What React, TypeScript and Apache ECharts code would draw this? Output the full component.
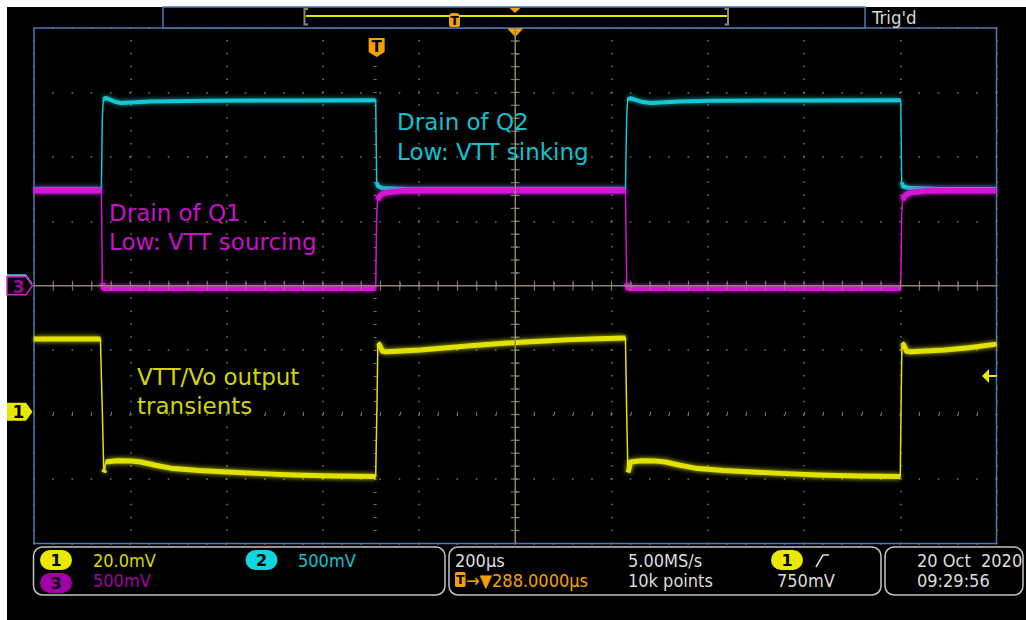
import React, { useEffect, useRef } from 'react';
import * as echarts from 'echarts';

// ---- Acquisition settings ----
const TIME_PER_DIV_US = 200;
const H_POSITION_US = 288; // trigger -> centre
const CH1_MV_PER_DIV = 20;
const CH1_POSITION_DIV = -1.957;
const CH2_V_PER_DIV = 0.5;
const CH2_POSITION_DIV = 0;
const CH3_V_PER_DIV = 0.5;
const CH3_POSITION_DIV = 0;
const TRIG_LEVEL_CH1_MV = 11.1;

// ---- Channel 1 (yellow): VTT/Vo output, mV relative to its marker ----
const CH1_T = [-712, -574, -570, -567, -565, -563, -540, -510, -490, -460, -428, -370, -310, -240, -172, -90, -2, 1, 2.5, 5, 12, 19, 50, 91, 140, 195, 250, 299, 350, 403, 460, 517, 519.5, 522, 524, 527, 550, 580, 600, 630, 662, 720, 780, 850, 918, 1000, 1088, 1090, 1091.5, 1094, 1101, 1108, 1140, 1180, 1230, 1288];
const CH1_MV = [22.6, 22.6, 0, -18.8, -18.0, -15.6, -15.2, -15.3, -15.6, -16.6, -17.5, -18.2, -18.7, -19.2, -19.6, -19.9, -20.1, 5, 21.3, 21.0, 18.8, 18.6, 18.9, 19.2, 19.8, 20.5, 21.1, 21.6, 22.0, 22.4, 22.7, 22.9, 0, -18.8, -18.0, -15.6, -15.2, -15.3, -15.6, -16.6, -17.5, -18.2, -18.7, -19.2, -19.6, -19.9, -20.1, 5, 21.3, 21.0, 18.8, 18.6, 18.9, 19.2, 19.9, 21.0];

// ---- Channel 2 (cyan): Drain of Q2, V ----
const CH2_T = [-712, -572, -570, -568, -563, -545, -532, -510, -470, -350, -150, -2, 0, 3, 12, 60, 517, 519.5, 521.5, 527, 550, 569, 590, 630, 700, 900, 1089, 1091, 1094, 1105, 1160, 1288];
const CH2_V = [0.748, 0.748, 1.30, 1.445, 1.457, 1.430, 1.418, 1.422, 1.430, 1.436, 1.438, 1.440, 0.80, 0.772, 0.758, 0.75, 0.748, 1.30, 1.445, 1.455, 1.428, 1.418, 1.422, 1.430, 1.436, 1.438, 1.440, 0.80, 0.77, 0.76, 0.752, 0.75];

// ---- Channel 3 (magenta): Drain of Q1, V ----
const CH3_T = [-712, -572, -570, -567, -2, 0, 2, 6, 12, 25, 50, 100, 517, 519.5, 522.5, 1089, 1091, 1093, 1097, 1103, 1116, 1141, 1191, 1288];
const CH3_V = [0.736, 0.736, 0.02, -0.02, -0.02, 0.55, 0.665, 0.695, 0.712, 0.726, 0.734, 0.736, 0.736, 0.02, -0.02, -0.02, 0.55, 0.665, 0.695, 0.712, 0.726, 0.734, 0.736, 0.736];

// ---- Labels ----
const CH_SCALE_LABELS = ['20.0mV', '500mV', '500mV'];
const TIMEBASE_LABEL = '200µs';
const TRIG_POS_LABEL = '→▼288.0000µs';
const SAMPLE_LABELS = ['5.00MS/s', '10k points'];
const TRIG_LEVEL_LABEL = '750mV';
const DATE_LABELS = ['20 Oct  2020', '09:29:56'];

const GL = 34, GT = 28, GW = 962.5, GH = 515.4;
const YELLOW = '#e2e200';
const CYAN = '#12c8d4';
const MAGENTA = '#d412d4';
const ORANGE = '#f5a000';
const BLUE = '#4a7ab4';
const TAN = '#8c8670';
const COND = '"DejaVu Sans Condensed", "DejaVu Sans", sans-serif';
const SANS = '"DejaVu Sans", Verdana, sans-serif';

const zip = (t: number[], v: number[]) => t.map((x, i) => [x, v[i]]);
// same samples, but the fast edges are left out so that only the settled parts get the thick, glowing band
function plateaus(t: number[], v: number[], perDiv: number) {
  const out: any[] = [];
  for (let i = 0; i < t.length; i++) {
    out.push([t[i], v[i]]);
    if (i < t.length - 1) {
      const slope = Math.abs(v[i + 1] - v[i]) / perDiv / (t[i + 1] - t[i]);
      if (slope > 0.06) out.push([(t[i] + t[i + 1]) / 2, '-']);
    }
  }
  return out;
}
const range = (pos: number, perDiv: number) => ({ min: (-4 - pos) * perDiv, max: (4 - pos) * perDiv });
const yPix = (val: number, r: { min: number; max: number }) => GT + GH * (r.max - val) / (r.max - r.min);

function txt(x: number, y: number, text: string, fill: string, font: string, align = 'left', z = 20) {
  return {
    type: 'text', x, y, z, silent: true,
    style: { text, fill, font, align, verticalAlign: 'middle', textAlign: align, textVerticalAlign: 'middle' },
  };
}

function buildOption() {
  const tMin = H_POSITION_US - 5 * TIME_PER_DIV_US;
  const tMax = H_POSITION_US + 5 * TIME_PER_DIV_US;
  const r1 = range(CH1_POSITION_DIV, CH1_MV_PER_DIV);
  const r2 = range(CH2_POSITION_DIV, CH2_V_PER_DIV);
  const r3 = range(CH3_POSITION_DIV, CH3_V_PER_DIV);
  const cx = GL + GW / 2, cy = GT + GH / 2;
  const dx = GW / 50, dy = GH / 40;

  const tickStyle = { color: '#727262', width: 1 };
  const divAxisBase = {
    type: 'value', interval: 1,
    axisLabel: { show: false },
    axisLine: { show: false },
    axisTick: { show: true, inside: true, length: 3, lineStyle: tickStyle },
    minorTick: { show: true, splitNumber: 5, length: 3, lineStyle: tickStyle },
    splitLine: { show: false },
  };

  const G: any[] = [];
  G.push({ type: 'rect', z: -100, silent: true, shape: { x: 7, y: 7, width: 1019, height: 613 }, style: { fill: '#000' } });

  // record bar
  G.push({ type: 'rect', z: 1, shape: { x: 163, y: 7, width: 702, height: 21 }, style: { fill: '#000', stroke: BLUE, lineWidth: 1.5 } });
  G.push({ type: 'line', z: 2, shape: { x1: 306, y1: 16, x2: 727, y2: 16 }, style: { stroke: '#e6e600', lineWidth: 2 } });
  G.push({ type: 'polyline', z: 2, shape: { points: [[308, 9], [304.5, 9], [304.5, 24.5], [308, 24.5]] }, style: { stroke: TAN, lineWidth: 2, fill: 'none' } });
  G.push({ type: 'polyline', z: 2, shape: { points: [[724.5, 9], [728, 9], [728, 24.5], [724.5, 24.5]] }, style: { stroke: TAN, lineWidth: 2, fill: 'none' } });
  G.push({ type: 'rect', z: 3, shape: { x: 449, y: 13, width: 11, height: 14, r: [4, 4, 2, 2] }, style: { fill: ORANGE } });
  G.push(txt(454.5, 20.5, 'T', '#000', 'bold 12px ' + SANS, 'center', 4));
  G.push({ type: 'polygon', z: 3, shape: { points: [[509.5, 8], [520.5, 8], [515, 13]] }, style: { fill: ORANGE } });
  G.push(txt(872, 17, "Trig'd", '#d8d8d8', '18.5px ' + COND));

  // trigger markers
  const tx = GL + GW * (0 - tMin) / (tMax - tMin);
  G.push({ type: 'polygon', z: 5, shape: { points: [[tx - 8, 38], [tx + 8, 38], [tx + 8, 52], [tx, 57], [tx - 8, 52]] }, style: { fill: ORANGE } });
  G.push(txt(tx, 46.5, 'T', '#000', 'bold 15px ' + SANS, 'center', 6));
  G.push({ type: 'polygon', z: 5, shape: { points: [[cx - 8, 28.5], [cx + 8, 28.5], [cx, 37]] }, style: { fill: ORANGE } });

  // centre crosshair
  G.push({ type: 'line', z: 5, silent: true, shape: { x1: GL, y1: cy, x2: GL + GW, y2: cy }, style: { stroke: TAN, lineWidth: 1.5 } });
  G.push({ type: 'line', z: 5, silent: true, shape: { x1: cx, y1: GT, x2: cx, y2: GT + GH }, style: { stroke: TAN, lineWidth: 1.5 } });
  for (let k = -24; k <= 24; k++) {
    if (k === 0) continue;
    G.push({ type: 'line', z: 5, silent: true, shape: { x1: cx + k * dx, y1: cy - 5, x2: cx + k * dx, y2: cy + 5 }, style: { stroke: TAN, lineWidth: 1.2, opacity: 0.85 } });
  }
  for (let k = -19; k <= 19; k++) {
    if (k === 0) continue;
    G.push({ type: 'line', z: 5, silent: true, shape: { x1: cx - 4.5, y1: cy + k * dy, x2: cx + 4.5, y2: cy + k * dy }, style: { stroke: TAN, lineWidth: 1.2, opacity: 0.85 } });
  }

  // channel ground markers
  const y1 = yPix(0, r1), y2 = yPix(0, r2), y3 = yPix(0, r3);
  const marker = (y: number) => [[7, y - 9], [26, y - 9], [32.5, y], [26, y + 9], [7, y + 9]];
  G.push({ type: 'polygon', z: 6, shape: { points: marker(y2 - 2.5) }, style: { fill: '#3cc0d8' } });
  G.push({ type: 'polygon', z: 7, shape: { points: marker(y3) }, style: { fill: '#000', stroke: '#d020d0', lineWidth: 1.5 } });
  G.push(txt(18.5, y3 + 0.5, '3', '#a000a0', 'bold 18px ' + SANS, 'center', 8));
  G.push({ type: 'polygon', z: 7, shape: { points: marker(y1) }, style: { fill: '#e8e800' } });
  G.push(txt(18.5, y1 + 0.5, '1', '#000', 'bold 17px ' + SANS, 'center', 8));

  // trigger level arrow
  const yt = yPix(TRIG_LEVEL_CH1_MV, r1);
  G.push({ type: 'polygon', z: 7, shape: { points: [[982, yt], [989, yt - 7], [989, yt + 7]] }, style: { fill: '#e8e800' } });
  G.push({ type: 'line', z: 7, shape: { x1: 989, y1: yt, x2: GL + GW, y2: yt }, style: { stroke: '#e8e800', lineWidth: 2 } });

  // annotations
  const AF = '23px ' + SANS;
  G.push(txt(397, 122, 'Drain of Q2', '#10c2d0', AF));
  G.push(txt(397, 152, 'Low: VTT sinking', '#10c2d0', AF));
  G.push(txt(109, 213, 'Drain of Q1', '#c810c8', AF));
  G.push(txt(109, 242, 'Low: VTT sourcing', '#c810c8', AF));
  G.push(txt(137, 377, 'VTT/Vo output', '#d4d400', AF));
  G.push(txt(137, 406, 'transients', '#d4d400', AF));

  // bottom info boxes
  const box = (x: number, w: number) => ({ type: 'rect', z: 5, shape: { x, y: 547, width: w, height: 48, r: 9 }, style: { fill: 'none', stroke: '#c4c4c4', lineWidth: 1.5 } });
  G.push(box(33.5, 411.5), box(449, 432), box(885, 138));
  const pill = (x: number, y: number, fill: string, label: string) => [
    { type: 'rect', z: 6, shape: { x, y, width: 32, height: 20, r: 10 }, style: { fill } },
    txt(x + 16, y + 10.5, label, '#000', 'bold 16px ' + SANS, 'center', 7),
  ];
  G.push(...pill(40, 550, '#e8e800', '1'));
  G.push(...pill(245.5, 550, '#10d4e0', '2'));
  G.push(...pill(40, 573, '#a000a8', '3'));
  G.push(txt(93, 560, CH_SCALE_LABELS[0], '#d8d800', '18px ' + COND));
  G.push(txt(298, 560, CH_SCALE_LABELS[1], '#10c4d0', '18px ' + COND));
  G.push(txt(93, 580, CH_SCALE_LABELS[2], '#a000a0', '18px ' + COND));
  G.push(txt(455, 560, TIMEBASE_LABEL, '#dcdcdc', '18px ' + COND));
  G.push({ type: 'rect', z: 6, shape: { x: 455, y: 572, width: 10.5, height: 15, r: 1.5 }, style: { fill: ORANGE } });
  G.push(txt(460.3, 580, 'T', '#000', 'bold 12px ' + SANS, 'center', 7));
  G.push(txt(466, 580, TRIG_POS_LABEL, ORANGE, '18px ' + COND));
  G.push(txt(628, 560, SAMPLE_LABELS[0], '#dcdcdc', '18px ' + COND));
  G.push(txt(628, 580, SAMPLE_LABELS[1], '#dcdcdc', '18px ' + COND));
  G.push(...pill(771, 550, '#e8e800', '1'));
  G.push({ type: 'polyline', z: 6, shape: { points: [[816, 567], [823, 555], [829, 555]] }, style: { stroke: '#dcdcdc', lineWidth: 1.5, fill: 'none' } });
  G.push(txt(777, 580, TRIG_LEVEL_LABEL, '#dcdcdc', '18px ' + COND));
  G.push(txt(917, 560, DATE_LABELS[0], '#dcdcdc', '18px ' + COND));
  G.push(txt(917, 580, DATE_LABELS[1], '#dcdcdc', '18px ' + COND));

  const dotV = GH / 40; // dot spacing along vertical grid lines
  const dotH = GW / 50; // along horizontal grid lines

  const thin = (name: string, yIdx: number, data: any[], color: string, z: number) => ({
    name, type: 'line', xAxisIndex: 1, yAxisIndex: yIdx, data, showSymbol: false, z, silent: true,
    lineStyle: { color, width: 1.5 },
  });
  const band = (name: string, yIdx: number, data: any[], color: string, width: number, glow: string, z: number) => ({
    name, type: 'line', xAxisIndex: 1, yAxisIndex: yIdx, data, showSymbol: false, z, silent: true, connectNulls: false,
    lineStyle: { color, width, cap: 'butt', join: 'round', shadowBlur: 5, shadowColor: glow },
  });

  return {
    animation: false,
    backgroundColor: '#ffffff',
    grid: { left: GL, top: GT, width: GW, height: GH, show: true, borderColor: BLUE, borderWidth: 1.5, backgroundColor: 'transparent' },
    xAxis: [
      { ...divAxisBase, min: -5, max: 5, position: 'bottom',
        splitLine: { show: true, lineStyle: { color: '#76766a', width: 1.5, type: [1.5, dotV - 1.5], dashOffset: 0.75 } } },
      { type: 'value', min: tMin, max: tMax, show: false },
      { ...divAxisBase, min: -5, max: 5, position: 'top' },
    ],
    yAxis: [
      { ...divAxisBase, min: -4, max: 4, position: 'left',
        splitLine: { show: true, lineStyle: { color: '#76766a', width: 1.5, type: [1.5, dotH - 1.5], dashOffset: 0.75 } } },
      { ...divAxisBase, min: -4, max: 4, position: 'right' },
      { type: 'value', min: r1.min, max: r1.max, show: false },
      { type: 'value', min: r2.min, max: r2.max, show: false },
      { type: 'value', min: r3.min, max: r3.max, show: false },
    ],
    series: [
      thin('Ch2', 3, zip(CH2_T, CH2_V), CYAN, 2),
      band('Ch2 band', 3, plateaus(CH2_T, CH2_V, CH2_V_PER_DIV), CYAN, 4, 'rgba(18,200,212,0.8)', 2),
      thin('Ch3', 4, zip(CH3_T, CH3_V), MAGENTA, 3),
      band('Ch3 band', 4, plateaus(CH3_T, CH3_V, CH3_V_PER_DIV), MAGENTA, 5.5, 'rgba(212,18,212,0.95)', 3),
      thin('Ch1', 2, zip(CH1_T, CH1_MV), YELLOW, 3),
      band('Ch1 band', 2, plateaus(CH1_T, CH1_MV, CH1_MV_PER_DIV), YELLOW, 5, 'rgba(226,226,0,0.9)', 3),
    ],
    graphic: { elements: G },
  };
}

export default function App() {
  const ref = useRef<HTMLDivElement>(null);
  useEffect(() => {
    document.body.style.margin = '0';
    const chart = echarts.init(ref.current!, null, { renderer: 'svg' });
    chart.setOption(buildOption() as any);
    return () => chart.dispose();
  }, []);
  return <div ref={ref} style={{ width: 1026, height: 620 }} />;
}
